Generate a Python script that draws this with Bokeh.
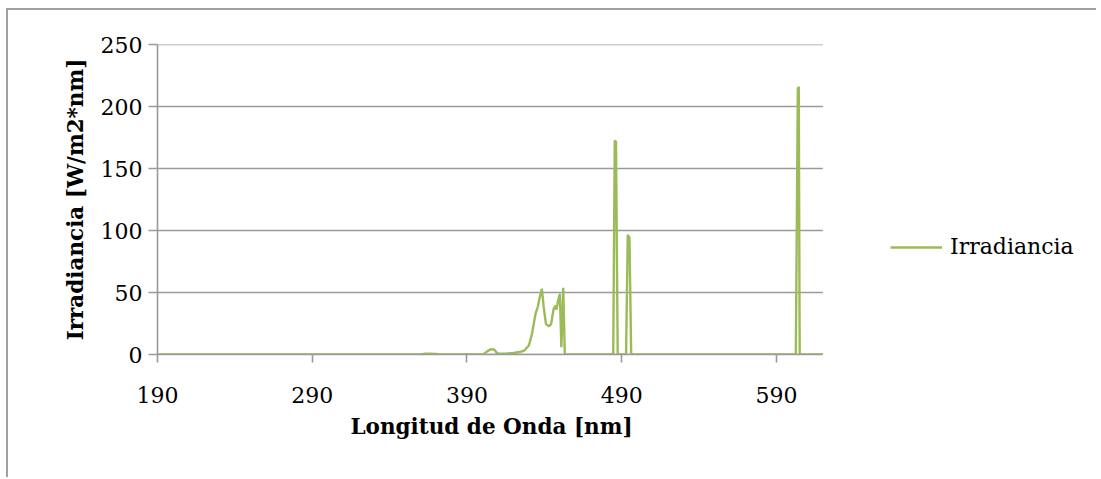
from bokeh.plotting import figure
from bokeh.models import Legend, LegendItem, FixedTicker, Range1d, Title
from bokeh.embed import file_html
from bokeh.resources import INLINE

# Data (wavelength nm, irradiance W/m2*nm)
wavelength = [190, 300, 360, 363, 366, 370, 373, 388, 390, 391, 393, 400, 401,
              403, 405, 407, 408, 409, 410, 415, 420, 424, 427, 430, 432, 434.3,
              435.8, 437, 438.4, 439.6, 441, 442.9, 444.4, 446, 447.2, 447.8,
              448.9, 450, 451, 452.2, 453.2, 454, 470, 484.5, 485.5, 486.3,
              487.4, 490, 492.8, 493.9, 495, 496.1, 520, 560, 602.5, 603.8,
              604.4, 605, 620]
irradiance = [0, 0, 0, 0.6, 0.7, 0.5, 0, 0, 0.3, 0, 0, 0, 0.5,
              2.5, 4.0, 4.3, 3.5, 1.6, 0.8, 0.7, 1.2, 2.0, 3.2, 7.3, 16.7, 32.8,
              38.7, 46.0, 53.0, 38.0, 24.7, 22.6, 24.7, 36.8, 39.5, 36.0,
              43.5, 49.0, 5.9, 53.8, 0.5, 0, 0, 0, 172.5, 171.5,
              0, 0, 0, 96.5, 94.0, 0, 0, 0, 0, 214.0,
              216.0, 0, 0]

x_ticks = [190, 290, 390, 490, 590]
y_ticks = [0, 50, 100, 150, 200, 250]
x_min, x_max = 190, 620
series_name = "Irradiancia"
x_title = "Longitud de Onda [nm]"
y_title = "Irradiancia [W/m2*nm]"

FONT = "DejaVu Serif"
GREEN = "#9BBB59"
GRAY = "#9a9a9a"

# the frame is wider than the data so that the legend (inside it) sits at the right
FRAME_EXTRA = 608.1
p = figure(width=1090, height=469, output_backend="svg", toolbar_location=None,
           x_range=Range1d(x_min, x_min + FRAME_EXTRA), y_range=Range1d(0, 250),
           min_border_left=149, min_border_right=0, min_border_top=34,
           min_border_bottom=125)
p.styles = {"margin-left": "6px", "margin-top": "8px",
            "border-left": "2px solid #a0a0a0", "border-top": "2px solid #a0a0a0"}
p.outline_line_color = None
p.background_fill_color = "white"
p.border_fill_color = "white"

p.xgrid.grid_line_color = None
p.ygrid.grid_line_color = None
# horizontal grid lines limited to the data extent
p.segment(x0=[x_min] * len(y_ticks), x1=[x_max] * len(y_ticks), y0=y_ticks, y1=y_ticks,
          line_color=GRAY, line_width=1.6)

r = p.line(wavelength, irradiance, line_color=GREEN, line_width=2.4)

p.xaxis.ticker = FixedTicker(ticks=x_ticks)
p.yaxis.ticker = FixedTicker(ticks=y_ticks)
p.xaxis.bounds = (x_min, x_max)
for ax in (p.xaxis, p.yaxis):
    ax.axis_line_color = GRAY
    ax.axis_line_width = 1.6
    ax.major_tick_line_color = GRAY
    ax.major_tick_line_width = 1.6
    ax.minor_tick_line_color = None
    ax.major_tick_in = 0
    ax.major_label_text_font = FONT
    ax.major_label_text_font_size = "22px"
    ax.major_label_text_color = "black"
    ax.axis_label_text_font = FONT
    ax.axis_label_text_font_size = "21.5px"
    ax.axis_label_text_font_style = "bold"
    ax.axis_label_text_color = "black"

p.yaxis.axis_label = y_title
p.xaxis.major_tick_out = 8
p.yaxis.major_tick_out = 9
p.xaxis.major_label_standoff = 24
p.yaxis.major_label_standoff = 6
p.yaxis.axis_label_standoff = 10

# x-axis title, centred under the data extent rather than the whole frame
p.add_layout(Title(text=x_title, align="left", offset=193, standoff=12,
                   text_font=FONT, text_font_size="21.5px",
                   text_font_style="bold", text_color="black"), "below")

legend = Legend(items=[LegendItem(label=series_name, renderers=[r])],
                location=(733, 95), margin=0, padding=10,
                glyph_width=52, glyph_height=20, label_height=20,
                label_standoff=8,
                label_text_font=FONT, label_text_font_size="22px",
                label_text_color="black",
                border_line_color=None, background_fill_alpha=0)
p.add_layout(legend)

open("out.html", "w").write(file_html(p, INLINE))
